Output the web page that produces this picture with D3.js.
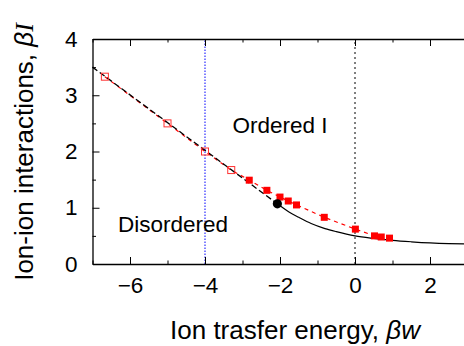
<!DOCTYPE html>
<html>
<head>
<meta charset="utf-8">
<script src="https://cdn.jsdelivr.net/npm/d3@7"></script>
<style>
  html, body { margin: 0; padding: 0; background: #fff; overflow: hidden; }
  svg { display: block; }
  text { font-family: "Liberation Sans", Arial, Helvetica, sans-serif; fill: #000; }
</style>
</head>
<body>
<svg id="chart" width="464" height="346"></svg>
<script>
// ---- data ----
const openX = [-6.67, -5.0, -4.0, -3.3];
const openY = [3.33, 2.5, 2.0, 1.67];
const filledX = [-2.82, -2.35, -2.0, -1.78, -1.56, -0.82, 0.01, 0.52, 0.70, 0.92];
const filledY = [1.49, 1.31, 1.19, 1.12, 1.05, 0.83, 0.62, 0.50, 0.48, 0.46];
const lineX = [-7, -2.07];
const lineY = [3.5, 1.07];
const curveX = [-2.07, -1.75, -1.5, -1.17, -0.8, -0.5, 0, 0.5, 1, 1.5, 2, 2.5, 3, 4];
const curveY = [1.07, 0.92, 0.83, 0.72, 0.63, 0.575, 0.50, 0.455, 0.42, 0.395, 0.375, 0.362, 0.355, 0.35];
const pointX = [-2.07];
const pointY = [1.07];
const vlineBlue = -4;
const vlineBlack = 0;
const xTicks = [-6, -4, -2, 0, 2];
const xMinor = [-7, -5, -3, -1, 1, 3];
const yTicks = [0, 1, 2, 3, 4];
const yMinor = [0.5, 1.5, 2.5, 3.5];
const labelOrdered = "Ordered I";
const labelDisordered = "Disordered";

// ---- scales ----
const x = d3.scaleLinear().domain([-7, 4]).range([92.5, 505]);
const y = d3.scaleLinear().domain([0, 4]).range([264, 39]);

const svg = d3.select("#chart");
const g = svg.append("g");

const zip = (a, b) => a.map((v, i) => [v, b[i]]);
const line = d3.line().x(d => x(d[0])).y(d => y(d[1]));

// vertical reference lines
g.append("line")
  .attr("x1", x(vlineBlue)).attr("x2", x(vlineBlue))
  .attr("y1", y(0)).attr("y2", y(4))
  .attr("stroke", "#0000ff").attr("stroke-width", 1)
  .attr("stroke-dasharray", "1.5,1.5");
g.append("line")
  .attr("x1", x(vlineBlack)).attr("x2", x(vlineBlack))
  .attr("y1", y(0)).attr("y2", y(4))
  .attr("stroke", "#000").attr("stroke-width", 1)
  .attr("stroke-dasharray", "2,3");

// red dashed connecting line through squares
g.append("path")
  .datum(zip(openX.concat(filledX), openY.concat(filledY)))
  .attr("d", line)
  .attr("fill", "none").attr("stroke", "#ff0000").attr("stroke-width", 1.2)
  .attr("stroke-dasharray", "4,4");

// black dashed theory line
g.append("path")
  .datum(zip(lineX, lineY))
  .attr("d", line)
  .attr("fill", "none").attr("stroke", "#000").attr("stroke-width", 1.3)
  .attr("stroke-dasharray", "6,3");

// solid black theory curve
g.append("path")
  .datum(zip(curveX, curveY))
  .attr("d", d3.line().x(d => x(d[0])).y(d => y(d[1])).curve(d3.curveMonotoneX))
  .attr("fill", "none").attr("stroke", "#000").attr("stroke-width", 1.2);

// open squares
const s = 7;
g.selectAll("rect.open")
  .data(zip(openX, openY))
  .join("rect")
  .attr("class", "open")
  .attr("x", d => x(d[0]) - s / 2).attr("y", d => y(d[1]) - s / 2)
  .attr("width", s).attr("height", s)
  .attr("fill", "none").attr("stroke", "#ff3030").attr("stroke-width", 1);

// filled squares
g.selectAll("rect.filled")
  .data(zip(filledX, filledY))
  .join("rect")
  .attr("class", "filled")
  .attr("x", d => x(d[0]) - s / 2).attr("y", d => y(d[1]) - s / 2)
  .attr("width", s).attr("height", s)
  .attr("fill", "#ff0000");

// black dot
g.selectAll("circle.pt")
  .data(zip(pointX, pointY))
  .join("circle")
  .attr("class", "pt")
  .attr("cx", d => x(d[0])).attr("cy", d => y(d[1]))
  .attr("r", 4.6).attr("fill", "#000");

// ---- axes ----
const axisStyle = sel => {
  sel.select(".domain").attr("stroke", "#000").attr("stroke-width", 1.3);
  sel.selectAll(".tick line").attr("stroke", "#000").attr("stroke-width", 1);
};
const fmt = d3.format("d");

// bottom major
g.append("g").attr("transform", `translate(0,${y(0)})`)
  .call(d3.axisBottom(x).tickValues(xTicks).tickSize(-7).tickPadding(13).tickFormat(fmt).tickSizeOuter(0))
  .call(axisStyle)
  .call(a => a.selectAll("text").attr("font-size", 22.5).attr("font-family", "Liberation Sans, Arial, sans-serif").attr("fill", "#000"));
// bottom minor
g.append("g").attr("transform", `translate(0,${y(0)})`)
  .call(d3.axisBottom(x).tickValues(xMinor).tickSize(-3.5).tickFormat("").tickSizeOuter(0))
  .call(axisStyle).call(a => a.select(".domain").remove());
// top major + minor
g.append("g").attr("transform", `translate(0,${y(4)})`)
  .call(d3.axisTop(x).tickValues(xTicks).tickSize(-7).tickFormat("").tickSizeOuter(0))
  .call(axisStyle);
g.append("g").attr("transform", `translate(0,${y(4)})`)
  .call(d3.axisTop(x).tickValues(xMinor).tickSize(-3.5).tickFormat("").tickSizeOuter(0))
  .call(axisStyle).call(a => a.select(".domain").remove());
// left major
g.append("g").attr("transform", `translate(${x(-7)},0)`)
  .call(d3.axisLeft(y).tickValues(yTicks).tickSize(-7).tickPadding(15).tickFormat(fmt).tickSizeOuter(0))
  .call(axisStyle)
  .call(a => a.selectAll("text").attr("font-size", 22.5).attr("font-family", "Liberation Sans, Arial, sans-serif").attr("fill", "#000"));
g.append("g").attr("transform", `translate(${x(-7)},0)`)
  .call(d3.axisLeft(y).tickValues(yMinor).tickSize(-3.5).tickFormat("").tickSizeOuter(0))
  .call(axisStyle).call(a => a.select(".domain").remove());

// annotations
g.append("text").attr("x", 280).attr("y", 133).attr("text-anchor", "middle")
  .attr("font-size", 22.5).text(labelOrdered);
g.append("text").attr("x", 173).attr("y", 232).attr("text-anchor", "middle")
  .attr("font-size", 22.5).text(labelDisordered);

// axis titles
const xt = g.append("text").attr("x", 295).attr("y", 339).attr("text-anchor", "middle")
  .attr("font-size", 26);
xt.append("tspan").text("Ion trasfer energy, ");
xt.append("tspan").attr("font-style", "italic").text("βw");

const yt = g.append("text")
  .attr("transform", `translate(33,152) rotate(-90)`)
  .attr("text-anchor", "middle").attr("font-size", 26);
yt.append("tspan").text("Ion-ion interactions, ");
yt.append("tspan").attr("font-style", "italic").text("β");
yt.append("tspan").attr("font-style", "italic").attr("font-family", "Liberation Serif, serif").text("I");
</script>
</body>
</html>
